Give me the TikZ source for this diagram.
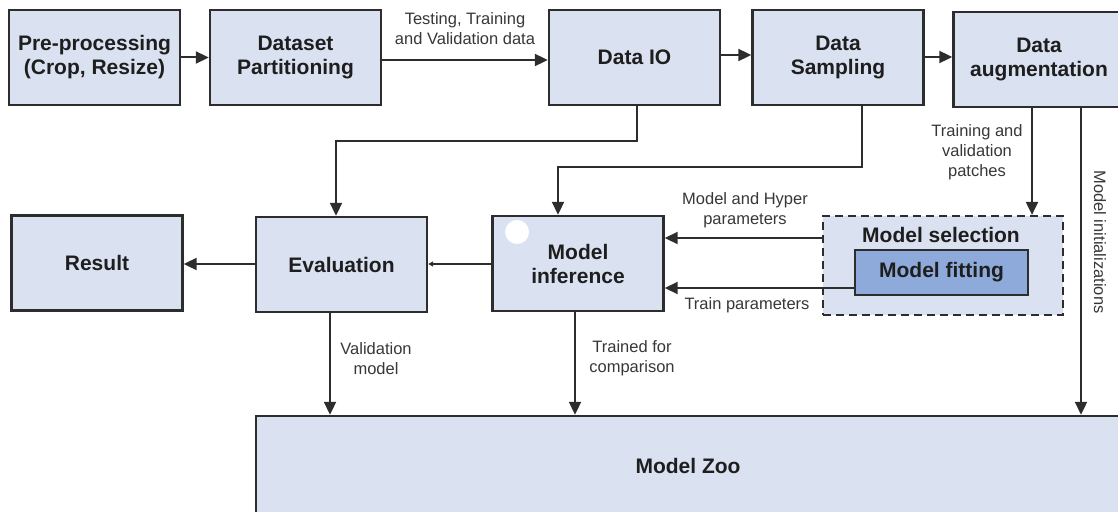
\documentclass[tikz,border=0pt]{standalone}
\usepackage{fontspec}
\setmainfont{Liberation Sans}
\usetikzlibrary{arrows.meta,calc}
\definecolor{boxblue}{RGB}{218,226,242}
\definecolor{fitblue}{RGB}{142,170,219}
\definecolor{edge}{RGB}{45,45,45}
\definecolor{txt}{RGB}{30,30,30}
\definecolor{lbl}{RGB}{55,55,55}
\tikzset{
  box/.style={draw=edge, line width=2.4pt, fill=boxblue, rectangle, inner sep=0pt,
    minimum width=171pt, minimum height=95pt, align=center, text=txt,
    font=\fontsize{21}{24}\selectfont\bfseries},
  arr/.style={draw=edge, line width=2pt, -{Triangle[length=13pt,width=12pt]}},
  smallarr/.style={draw=edge, line width=2pt, -{Triangle[length=5pt,width=5pt]}},
  lab/.style={align=center, text=lbl, inner sep=0pt, font=\fontsize{16.5}{20}\selectfont},
}
\begin{document}
\begin{tikzpicture}[x=1pt,y=-1pt]
\useasboundingbox (0,0) rectangle (1118,511);
\clip (0,0) rectangle (1118,511);
% top row
\node[box] (pre)  at (94.5,57.5)  {Pre-processing\\(Crop, Resize)};
\node[box] (ds)   at (295.5,57.5) {Dataset\\Partitioning};
\node[box] (dio)  at (634.5,57.5) {Data IO};
\node[box] (samp) at (838,57.5)   {Data\\Sampling};
\node[box] (aug)  at (1039,59.5)  {Data\\augmentation};
% second row
\node[box] (res)  at (97,263)     {Result};
\node[box] (eval) at (341.5,264.5){Evaluation};
\node[box] (minf) at (578,263.5)  {Model\\inference};
\fill[white] (517,232) circle (12pt);
\node[draw=edge, dash pattern=on 8pt off 5pt, line width=2.2pt, fill=boxblue, rectangle, inner sep=0pt,
      minimum width=240pt, minimum height=99pt] (msel) at (943,265.5) {};
\node[text=txt, font=\fontsize{21}{24}\selectfont\bfseries, inner sep=0pt] (mseltitle) at (941,235) {Model selection};
\node[draw=edge, line width=2.4pt, fill=fitblue, rectangle, inner sep=0pt,
      minimum width=173pt, minimum height=45pt, text=txt,
      font=\fontsize{21}{24}\selectfont\bfseries] (fit) at (941.5,272.5) {Model fitting};
% bottom
\node[box, minimum width=864pt, minimum height=100pt] (zoo) at (688,466) {Model Zoo};
% connectors top row
\draw[arr] (pre.east) -- (ds.west);
\draw[arr] (ds.east |- 0,60) -- (dio.west |- 0,60);
\draw[arr] (dio.east |- 0,55) -- (samp.west |- 0,55);
\draw[arr] (samp.east |- 0,57) -- (aug.west |- 0,57);
\node[lab] (lbltest) at (465,29) {Testing, Training\\and Validation data};
% down connectors
\draw[arr] ([xshift=2pt]dio.south) -- ++(0,35) -| ([xshift=-5.5pt]eval.north);
\draw[arr] ([xshift=24pt]samp.south) -- ++(0,61) -| ([xshift=-20pt]minf.north);
\draw[arr] ([xshift=-7pt]aug.south) -- ([xshift=-7pt]aug.south |- msel.north);
\node[lab] (lblpatch) at (977,152) {Training and\\validation\\patches};
\draw[arr] ([xshift=42pt]aug.south) -- ([xshift=42pt]aug.south |- zoo.north);
\node[lab, rotate=-90] (lblinit) at (1100,242) {Model initializations};
% model selection to inference
\draw[arr] (msel.west |- 0,238) -- (minf.east |- 0,238);
\node[lab] (lblhyper) at (745,210) {Model and Hyper\\parameters};
\draw[arr] (fit.west |- 0,288) -- (minf.east |- 0,288);
\node[lab] (lbltrain) at (747,305) {Train parameters};
% second row left
\draw[smallarr] (minf.west |- 0,264) -- (eval.east |- 0,264);
\draw[arr] (eval.west |- 0,264) -- (res.east |- 0,264);
% to model zoo
\draw[arr] ([xshift=-11.5pt]eval.south) -- ([xshift=-11.5pt]eval.south |- zoo.north);
\node[lab] (lblval) at (376,359) {Validation\\model};
\draw[arr] ([xshift=-3pt]minf.south) -- ([xshift=-3pt]minf.south |- zoo.north);
\node[lab] (lbltrained) at (632,358) {Trained for\\comparison};
\end{tikzpicture}
\end{document}
